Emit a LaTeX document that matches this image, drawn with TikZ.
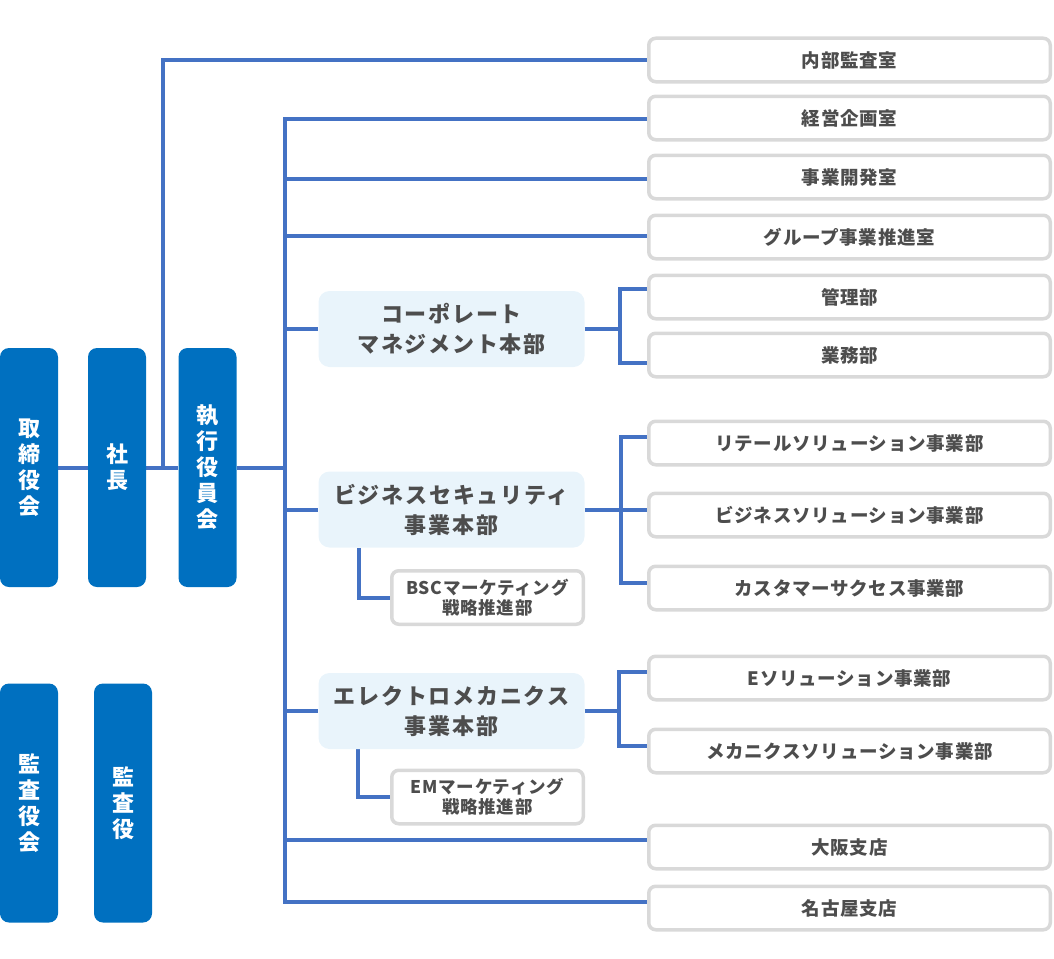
\documentclass[tikz,border=0pt]{standalone}
\usepackage{fontspec}
\usetikzlibrary{backgrounds}
\newfontfamily\jp{Noto Sans CJK JP}
\newfontfamily\jpr{Noto Sans CJK JP}[LetterSpace=4]
\newfontfamily\jph{Noto Sans CJK JP}[LetterSpace=8]
\definecolor{bluebox}{HTML}{0070C0}
\definecolor{connblue}{HTML}{4472C4}
\definecolor{grayb}{HTML}{D9D9D9}
\definecolor{lightb}{HTML}{E9F4FB}
\definecolor{txt}{HTML}{4D4D4D}
\begin{document}
\begin{tikzpicture}[x=1pt,y=-1pt,
  conn/.style={draw=connblue, line width=4pt},
  exec/.style={fill=bluebox, rounded corners=9pt, minimum width=58pt, minimum height=239pt,
    inner sep=0pt, text=white, align=center, font=\jp\bfseries\fontsize{22}{26}\selectfont},
  dept/.style={draw=grayb, line width=3.5pt, fill=white, rounded corners=7pt,
    minimum width=401.5pt, minimum height=43.5pt, inner sep=0pt, text=txt,
    font=\jpr\bfseries\fontsize{18.5}{20}\selectfont},
  hq/.style={fill=lightb, rounded corners=11pt, minimum width=266pt, minimum height=76pt,
    inner sep=0pt, text=txt, align=center, font=\jph\bfseries\fontsize{22}{30}\selectfont},
  subd/.style={draw=grayb, line width=3.5pt, fill=white, rounded corners=7pt,
    minimum width=191.5pt, minimum height=53.5pt, inner sep=0pt, text=txt, align=center,
    font=\jpr\bfseries\fontsize{17.5}{20}\selectfont}]
\useasboundingbox (0,0) rectangle (1054,958);

% left blue boxes
\node[exec] (tori) at (29,467.5) {取\\締\\役\\会};
\node[exec] (pres) at (117,467.5) {社\\長};
\node[exec] (exe) at (207.5,467.5) {執\\行\\役\\員\\会};
\node[exec] (kansakai) at (29,803) {監\\査\\役\\会};
\node[exec] (kansa) at (123,803) {監\\査\\役};

% right department boxes
\node[dept] (naibu) at (849.5,60) {内部監査室};
\node[dept] (keiei) at (849.5,118) {経営企画室};
\node[dept] (jigyo) at (849.5,177) {事業開発室};
\node[dept] (group) at (849.5,237) {グループ事業推進室};
\node[dept] (kanri) at (849.5,297) {管理部};
\node[dept] (gyomu) at (849.5,355) {業務部};
\node[dept] (retail) at (849.5,443) {リテールソリューション事業部};
\node[dept] (bizsol) at (849.5,515) {ビジネスソリューション事業部};
\node[dept] (cs) at (849.5,588) {カスタマーサクセス事業部};
\node[dept] (esol) at (849.5,678) {Eソリューション事業部};
\node[dept] (mech) at (849.5,751) {メカニクスソリューション事業部};
\node[dept] (osaka) at (849.5,847) {大阪支店};
\node[dept] (nagoya) at (849.5,908) {名古屋支店};

% headquarters
\node[hq] (cm) at (451.5,329) {コーポレート\\マネジメント本部};
\node[hq] (bs) at (451.5,509.5) {ビジネスセキュリティ\\事業本部};
\node[hq] (em) at (451.5,711) {エレクトロメカニクス\\事業本部};

% sub departments
\node[subd] (bsc) at (487.5,597.5) {BSCマーケティング\\戦略推進部};
\node[subd] (emm) at (487.5,797) {EMマーケティング\\戦略推進部};

\begin{scope}[on background layer]
  % top-level chain
  \draw[conn] (tori.east) -- (pres.west);
  \draw[conn] (pres.east) -- (exe.west);
  \coordinate (j0) at (163,466);
  \draw[conn] (j0) |- (naibu.west);
  % main trunk
  \coordinate (mtop) at (285,119);
  \coordinate (mbot) at (285,902);
  \draw[conn] (exe.east) -- (exe.east -| mtop);
  \draw[conn, line cap=rect] (mtop) -- (mbot);
  \coordinate (a1) at ([yshift=-1pt]keiei.west);
  \coordinate (a2) at ([yshift=-2pt]jigyo.west);
  \coordinate (a3) at ([yshift=1pt]group.west);
  \coordinate (a4) at ([yshift=7pt]osaka.west);
  \coordinate (a5) at ([yshift=6pt]nagoya.west);
  \draw[conn] (mtop |- a1) -- (a1);
  \draw[conn] (mtop |- a2) -- (a2);
  \draw[conn] (mtop |- a3) -- (a3);
  \draw[conn] (mtop |- a4) -- (a4);
  \draw[conn] (mtop |- a5) -- (a5);
  \draw[conn] (mtop |- cm.west) -- (cm.west);
  \draw[conn] (mtop |- bs.west) -- (bs.west);
  \draw[conn] (mtop |- em.west) -- (em.west);
  % brackets
  \coordinate (k1) at ([xshift=35pt]cm.east);
  \draw[conn] (cm.east) -- (k1);
  \draw[conn] ([yshift=8pt]kanri.west) -| (k1) |- ([yshift=-8pt]gyomu.west);
  \coordinate (k2) at ([xshift=36pt]bs.east);
  \draw[conn] (bs.east) -- (k2);
  \draw[conn] ([yshift=6pt]retail.west) -| (k2) |- ([yshift=5pt]cs.west);
  \draw[conn] (k2) -- (k2 -| bizsol.west);
  \coordinate (k3) at ([xshift=34pt]em.east);
  \draw[conn] (em.east) -- (k3);
  \draw[conn] ([yshift=6pt]esol.west) -| (k3) |- ([yshift=5pt]mech.west);
  % sub departments
  \draw[conn] ([xshift=-92.5pt]bs.south) |- (bsc.west);
  \draw[conn] ([xshift=-93.5pt]em.south) |- (emm.west);
\end{scope}
\end{tikzpicture}
\end{document}
